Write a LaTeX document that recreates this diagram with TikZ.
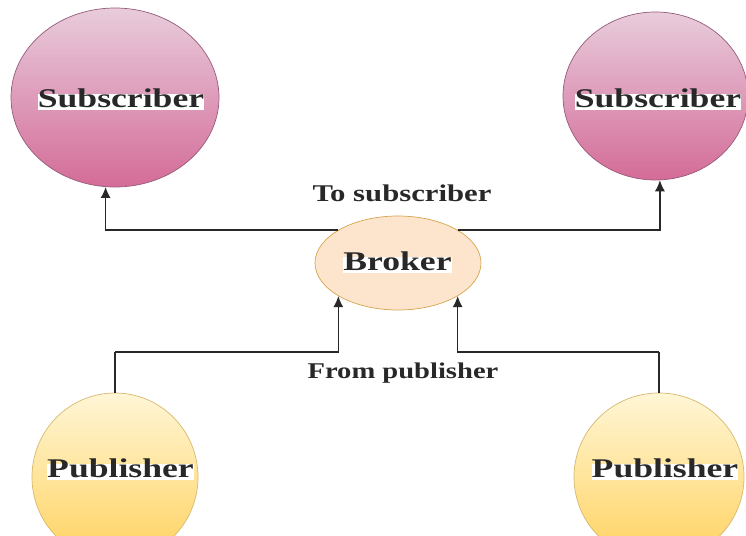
\documentclass[tikz,border=0pt]{standalone}
\usepackage{fontspec}
\setmainfont{Liberation Serif}
\usepackage{graphicx}
\usetikzlibrary{shapes.geometric,arrows.meta}

\definecolor{subtop}{RGB}{232,204,220}
\definecolor{subbot}{RGB}{212,108,152}
\definecolor{subline}{RGB}{150,90,120}
\definecolor{pubtop}{RGB}{255,246,214}
\definecolor{pubbot}{RGB}{255,210,95}
\definecolor{publine}{RGB}{215,185,110}
\definecolor{brokfill}{RGB}{253,228,204}
\definecolor{brokline}{RGB}{215,165,80}
\definecolor{ink}{RGB}{40,40,40}

\tikzset{
  subnode/.style={ellipse, draw=subline, line width=0.7pt, top color=subtop,
    bottom color=subbot, inner sep=0pt},
  pubnode/.style={ellipse, draw=publine, line width=0.7pt, top color=pubtop,
    bottom color=pubbot, inner sep=0pt},
  broknode/.style={ellipse, draw=brokline, line width=0.7pt, fill=brokfill,
    minimum width=166pt, minimum height=94pt, inner sep=0pt},
  lbl/.style={fill=white, inner sep=0pt, anchor=base, text=ink,
    font=\bfseries\fontsize{27}{30}\selectfont, text height=13pt, text depth=3pt},
  note/.style={inner sep=0pt, anchor=base, text=ink},
  conn/.style={draw=ink, line width=1.3pt},
  arr/.style={conn, -{Latex[length=11pt,width=10pt]}}
}

\newcommand{\wide}[2][1.32]{\scalebox{#1}[1]{#2}}

\begin{document}
\begin{tikzpicture}[x=1pt,y=-1pt]
  \useasboundingbox (0,0) rectangle (746,535);
  \clip (0,0) rectangle (746,535);

  % subscribers
  \node[subnode, minimum width=208pt, minimum height=179pt] (sub1) at (115,97.5) {};
  \node[subnode, minimum width=185pt, minimum height=168pt] (sub2) at (655.5,96) {};
  \node[lbl] (sub1t) at (121,107) {\wide{Subscriber}};
  \node[lbl] (sub2t) at (658,107) {\wide{Subscriber}};

  % broker
  \node[broknode] (broker) at (398,263) {};
  \node[lbl] (brokt) at (397.5,270) {\wide{Broker}};

  % publishers
  \node[pubnode, minimum width=166pt, minimum height=168pt] (pub1) at (115,477) {};
  \node[pubnode, minimum width=170pt, minimum height=168pt] (pub2) at (659,477) {};
  \node[lbl] (pub1t) at (120.5,477) {\wide{Publisher}};
  \node[lbl] (pub2t) at (665,477) {\wide{Publisher}};

  % connector labels
  \node[note, font=\bfseries\fontsize{24}{28}\selectfont] (tosub) at (402,201)
    {\wide[1.28]{To subscriber}};
  \node[note, font=\bfseries\fontsize{22.5}{26}\selectfont] (frompub) at (403,378)
    {\wide[1.27]{From publisher}};

  % broker -> subscribers
  \draw[arr] (broker.151) -| (sub1.264);
  \draw[arr] (broker.29) -| (sub2.273);

  % publishers -> broker
  \coordinate (j1) at (115,352);
  \coordinate (j2) at (659,352);
  \draw[conn] (pub1.north) -- (j1);
  \draw[arr] (j1) -| (broker.209);
  \draw[conn] (pub2.north) -- (j2);
  \draw[arr] (j2) -| (broker.331);
\end{tikzpicture}
\end{document}
